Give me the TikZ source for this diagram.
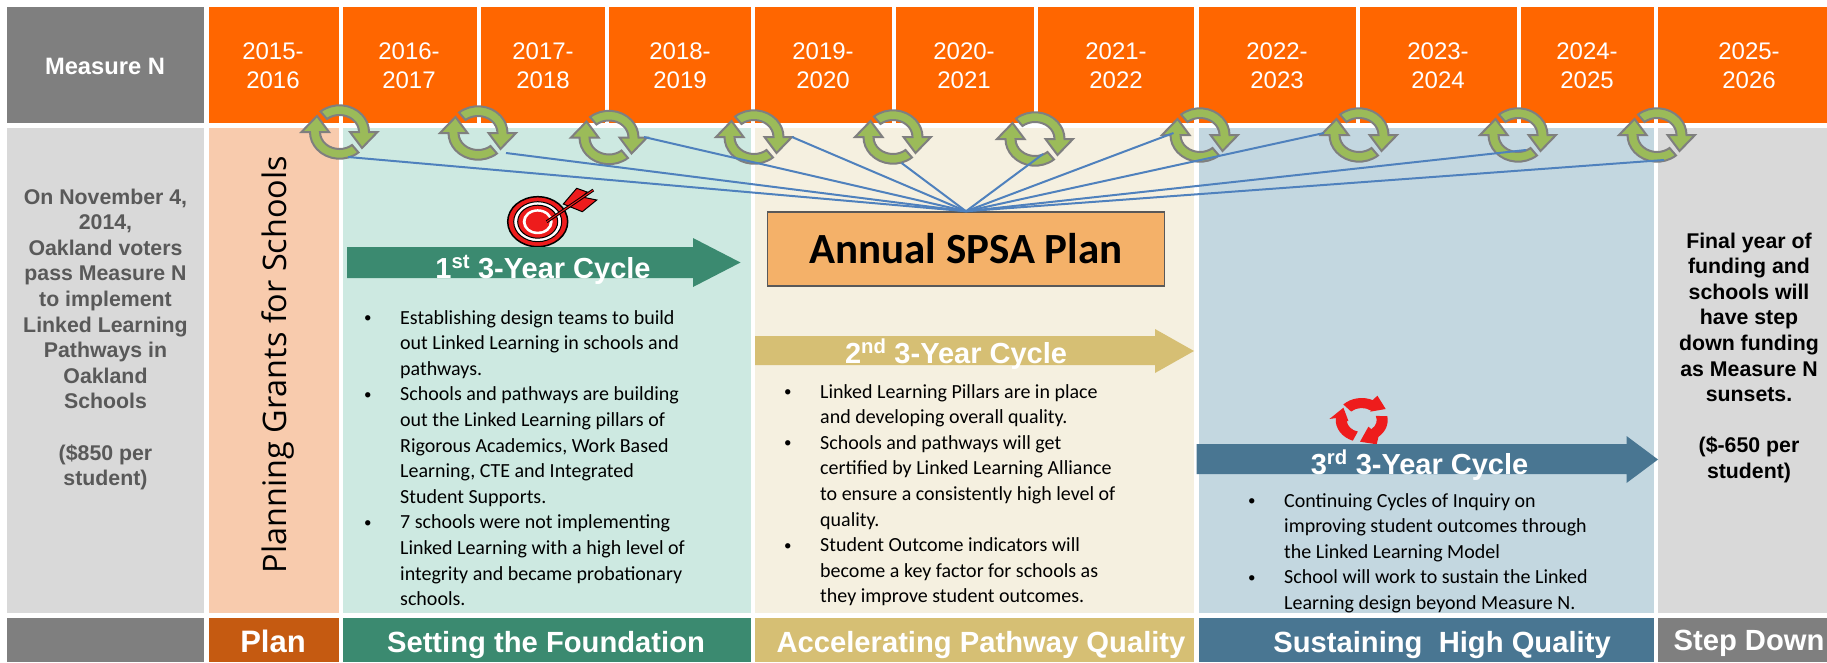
\documentclass[tikz,border=0pt]{standalone}
\usepackage{fontspec}
\setmainfont{Liberation Sans}
\newfontfamily\calibrifont{Carlito}
\newfontfamily\grantsfont{Open Sans}
\usetikzlibrary{arrows.meta,positioning,shapes.geometric}

\newcommand{\itemdot}{\makebox[37pt][l]{\hspace*{1pt}\raisebox{1.5pt}{\fontsize{15}{15}\selectfont\textbullet}}}
\newcommand{\itemhang}{\hspace*{37pt}}

\tikzset{
  yearlabel/.style={anchor=north,inner sep=0pt,align=center,text=white,font=\fontsize{24}{29}\selectfont},
  sidelabel/.style={anchor=north,inner sep=0pt,align=center,font=\bfseries\fontsize{21.3}{25.6}\selectfont},
  phaselabel/.style={anchor=base,inner sep=0pt,text=white,font=\bfseries\fontsize{29.2}{32}\selectfont},
  cyclelabel/.style={anchor=base,inner sep=0pt,text=white,font=\bfseries\fontsize{29}{32}\selectfont},
  bulletlist/.style={anchor=north west,inner sep=0pt,align=left,font=\calibrifont\fontsize{20}{25.6}\selectfont},
  planlink/.style={draw=linkblue,line width=2pt},
  cycleicon/.pic={
    \path[fill=icongreen,draw=icongray,line width=2pt]
      (130:29.5pt and 26.7pt) arc[start angle=130,end angle=0,x radius=29.5pt,y radius=26.7pt]
      -- (38pt,0pt) -- (22.5pt,-16pt) -- (10.5pt,0pt) -- (19.5pt,0pt)
      arc[start angle=0,end angle=130,x radius=19.5pt,y radius=17pt] -- cycle;
    \path[rotate=180,fill=icongreen,draw=icongray,line width=2pt]
      (130:29.5pt and 26.7pt) arc[start angle=130,end angle=0,x radius=29.5pt,y radius=26.7pt]
      -- (38pt,0pt) -- (22.5pt,-16pt) -- (10.5pt,0pt) -- (19.5pt,0pt)
      arc[start angle=0,end angle=130,x radius=19.5pt,y radius=17pt] -- cycle;
  }
}

\begin{document}
\begin{tikzpicture}[x=1pt,y=-1pt]
% Scheme colours
\definecolor{yearorange}{HTML}{FF6600}
\definecolor{headgray}{HTML}{7F7F7F}
\definecolor{sidegray}{HTML}{D9D9D9}
\definecolor{sidetext}{HTML}{595959}
\definecolor{planpeach}{HTML}{F8CBAD}
\definecolor{planbrown}{HTML}{C55A11}
\definecolor{greenpale}{HTML}{CDE9E1}
\definecolor{greendark}{HTML}{3B8A70}
\definecolor{goldpale}{HTML}{F5F0E0}
\definecolor{golddark}{HTML}{D6BF74}
\definecolor{bluepale}{HTML}{C3D7E0}
\definecolor{bluedark}{HTML}{497692}
\definecolor{spsafill}{HTML}{F4B169}
\definecolor{linkblue}{HTML}{4F81BD}
\definecolor{icongreen}{HTML}{9BBB59}
\definecolor{icongray}{HTML}{7F7F7F}
\definecolor{redmark}{HTML}{EE1C1C}

\useasboundingbox (0,0) rectangle (1827,662);

% Top row
\fill[headgray] (7,7) rectangle (204,123);
\node[anchor=base,inner sep=0pt,text=white,font=\bfseries\fontsize{23.7}{28}\selectfont] (measure) at (105,74) {Measure N};
\fill[yearorange] (209,7) rectangle (338.5,123);
\fill[yearorange] (342.5,7) rectangle (477,123);
\fill[yearorange] (481,7) rectangle (605,123);
\fill[yearorange] (609,7) rectangle (750.5,123);
\fill[yearorange] (755,7) rectangle (892,123);
\fill[yearorange] (896,7) rectangle (1033.5,123);
\fill[yearorange] (1037.5,7) rectangle (1194,123);
\fill[yearorange] (1199,7) rectangle (1356,123);
\fill[yearorange] (1360,7) rectangle (1517,123);
\fill[yearorange] (1521,7) rectangle (1654,123);
\fill[yearorange] (1658,7) rectangle (1827,123);
\node[yearlabel] (y2015) at (273,43) {2015-\\2016};
\node[yearlabel] (y2016) at (409,43) {2016-\\2017};
\node[yearlabel] (y2017) at (543,43) {2017-\\2018};
\node[yearlabel] (y2018) at (680,43) {2018-\\2019};
\node[yearlabel] (y2019) at (823,43) {2019-\\2020};
\node[yearlabel] (y2020) at (964,43) {2020-\\2021};
\node[yearlabel] (y2021) at (1116,43) {2021-\\2022};
\node[yearlabel] (y2022) at (1277,43) {2022-\\2023};
\node[yearlabel] (y2023) at (1438,43) {2023-\\2024};
\node[yearlabel] (y2024) at (1587,43) {2024-\\2025};
\node[yearlabel] (y2025) at (1749,43) {2025-\\2026};

% Middle row
\fill[sidegray] (7,127.5) rectangle (204,613);
\fill[planpeach] (209,127.5) rectangle (338.5,613);
\fill[greenpale] (342.5,127.5) rectangle (750.5,613);
\fill[goldpale] (755,127.5) rectangle (1194,613);
\fill[bluepale] (1199,127.5) rectangle (1654,613);
\fill[sidegray] (1658,127.5) rectangle (1827,613);

% Bottom row
\fill[headgray] (7,617.5) rectangle (204,662);
\fill[planbrown] (209,617.5) rectangle (338.5,662);
\fill[greendark] (342.5,617.5) rectangle (750.5,662);
\fill[golddark] (755,617.5) rectangle (1194,662);
\fill[bluedark] (1199,617.5) rectangle (1654,662);
\fill[headgray] (1658,617.5) rectangle (1827,662);
\node[phaselabel,font=\bfseries\fontsize{31}{34}\selectfont] (plan) at (273,652) {Plan};
\node[phaselabel] (found) at (546,652) {Setting the Foundation};
\node[phaselabel] (accel) at (981,652) {Accelerating Pathway Quality};
\node[phaselabel] (sustain) at (1442,652) {Sustaining \ High Quality};
\node[phaselabel] (stepdown) at (1749,650) {Step Down};

% Side texts
\node[sidelabel,text=sidetext] (voters) at (105.5,188.5) {On November 4,\\2014,\\Oakland voters\\pass Measure N\\to implement\\Linked Learning\\Pathways in\\Oakland\\Schools\\[25.6pt](\$850 per\\student)};
\node[sidelabel] (sunset) at (1749,232.5) {Final year of\\funding and\\schools will\\have step\\down funding\\as Measure N\\sunsets.\\[25.6pt](\$-650 per\\student)};
\node[rotate=90,inner sep=0pt,font=\grantsfont\fontsize{32.4}{36}\selectfont] (grants) at (278,364.5) {Planning Grants for Schools};

% Cycle icons
\pic at (339.5,132) {cycleicon};
\pic at (478,133) {cycleicon};
\pic at (609,137.5) {cycleicon};
\pic at (754,137) {cycleicon};
\pic at (893,137) {cycleicon};
\pic at (1035,139) {cycleicon};
\pic at (1200,135) {cycleicon};
\pic at (1359,135) {cycleicon};
\pic at (1518,135) {cycleicon};
\pic at (1657,135) {cycleicon};

% SPSA box and links
\node[draw=sidetext,fill=spsafill,line width=1.5pt,minimum width=397pt,minimum height=74pt,inner sep=0pt,font=\calibrifont\bfseries\fontsize{43}{46}\selectfont] (spsa) at (966,249) {Annual SPSA Plan};
\coordinate (c1) at (348,157);
\coordinate (c2) at (506,153);
\coordinate (c3) at (644,137);
\coordinate (c4) at (792,137);
\coordinate (c5) at (901.5,163);
\coordinate (c6) at (1043,154);
\coordinate (c7) at (1173.5,133);
\coordinate (c8) at (1324,133);
\coordinate (c9) at (1526,150);
\coordinate (c10) at (1664,160);
\draw[planlink] (c1) -- (spsa.north);
\draw[planlink] (c2) -- (spsa.north);
\draw[planlink] (c3) -- (spsa.north);
\draw[planlink] (c4) -- (spsa.north);
\draw[planlink] (c5) -- (spsa.north);
\draw[planlink] (c6) -- (spsa.north);
\draw[planlink] (c7) -- (spsa.north);
\draw[planlink] (c8) -- (spsa.north);
\draw[planlink] (c9) -- (spsa.north);
\draw[planlink] (c10) -- (spsa.north);

% Target
\filldraw[fill=redmark,draw=black,line width=1.5pt] (537.7,221.7) ellipse[x radius=30,y radius=25];
\filldraw[fill=white,draw=black,line width=1pt] (537.7,221.7) ellipse[x radius=24,y radius=20];
\filldraw[fill=redmark,draw=black,line width=1pt] (537.7,221.7) ellipse[x radius=20,y radius=16.5];
\fill[white] (537.7,221.7) ellipse[x radius=15,y radius=12.5];
\fill[redmark] (537.7,221.7) ellipse[x radius=12,y radius=10];
\filldraw[fill=redmark,draw=black,line width=1pt] (563.3,204) -- (576.7,188.3) -- (587,192) -- (582,197) -- (596.7,200) -- (582.3,211.7) -- cycle;
\draw[black,line width=3pt] (546.7,221.7) -- (593.3,190);
\draw[redmark,line width=1pt] (546.7,221.7) -- (593.3,190);

% Red cycle
\begin{scope}[shift={(1361.7,420)}]
\fill[redmark] (135:26pt and 22pt) arc[start angle=135,end angle=65,x radius=26pt,y radius=22pt]
  -- (15.7pt,24.3pt) -- (24pt,11pt) -- (8.3pt,8.3pt) -- (50:15pt and 12pt)
  arc[start angle=50,end angle=135,x radius=15pt,y radius=12pt] -- cycle;
\fill[redmark] (10:26pt and 22pt) arc[start angle=10,end angle=-50,x radius=26pt,y radius=22pt]
  -- (15pt,-24.3pt) -- (-1.7pt,-21.7pt) -- (6.7pt,-6.7pt) -- (-50:15pt and 12pt)
  arc[start angle=-50,end angle=20,x radius=15pt,y radius=12pt] -- cycle;
\fill[redmark] (250:26pt and 22pt) arc[start angle=250,end angle=175,x radius=26pt,y radius=22pt]
  -- (-32.3pt,1pt) -- (-18.3pt,12.3pt) -- (-13.3pt,-1pt) -- (185:15pt and 12pt)
  arc[start angle=185,end angle=255,x radius=15pt,y radius=12pt] -- cycle;
\end{scope}

% Cycle arrows
\fill[greendark] (347,247) -- (693,247) -- (693,238) -- (740.5,262.5) -- (693,287) -- (693,278) -- (347,278) -- cycle;
\node[cyclelabel] (cycle1) at (543,278) {1\textsuperscript{st} 3-Year Cycle};
\fill[golddark] (755,336) -- (1155,336) -- (1155,329) -- (1194,351) -- (1155,373) -- (1155,365) -- (755,365) -- cycle;
\node[cyclelabel] (cycle2) at (956,363) {2\textsuperscript{nd} 3-Year Cycle};
\fill[bluedark] (1196.5,444) -- (1626.5,444) -- (1626.5,436) -- (1658,459.5) -- (1626.5,483) -- (1626.5,474) -- (1196.5,474) -- cycle;
\node[cyclelabel] (cycle3) at (1419.5,474) {3\textsuperscript{rd} 3-Year Cycle};

% Bullet lists
\node[bulletlist] (list1) at (363,310) {\itemdot Establishing design teams to build\\\itemhang out Linked Learning in schools and\\\itemhang pathways.\\\itemdot Schools and pathways are building\\\itemhang out the Linked Learning pillars of\\\itemhang Rigorous Academics, Work Based\\\itemhang Learning, CTE and Integrated\\\itemhang Student Supports.\\\itemdot 7 schools were not implementing\\\itemhang Linked Learning with a high level of\\\itemhang integrity and became probationary\\\itemhang schools.};
\node[bulletlist] (list2) at (783,384) {\itemdot Linked Learning Pillars are in place\\\itemhang and developing overall quality.\\\itemdot Schools and pathways will get\\\itemhang certified by Linked Learning Alliance\\\itemhang to ensure a consistently high level of\\\itemhang quality.\\\itemdot Student Outcome indicators will\\\itemhang become a key factor for schools as\\\itemhang they improve student outcomes.};
\node[bulletlist] (list3) at (1247,493) {\itemdot Continuing Cycles of Inquiry on\\\itemhang improving student outcomes through\\\itemhang the Linked Learning Model\\\itemdot School will work to sustain the Linked\\\itemhang Learning design beyond Measure N.};
\end{tikzpicture}
\end{document}
